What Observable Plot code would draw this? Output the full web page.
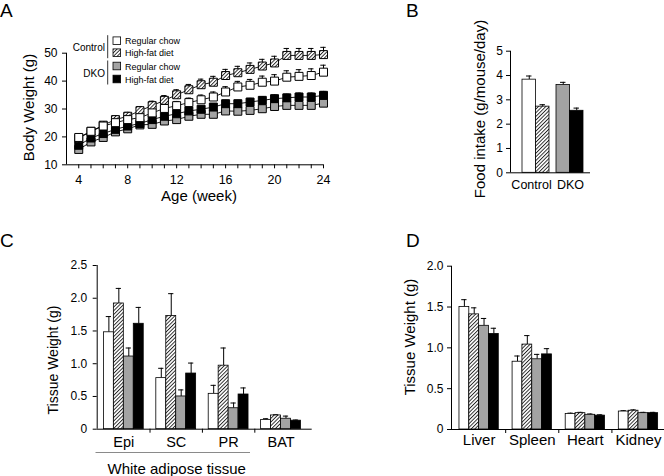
<!DOCTYPE html>
<html><head><meta charset="utf-8">
<script src="https://cdn.jsdelivr.net/npm/d3@7"></script>
<script src="https://cdn.jsdelivr.net/npm/@observablehq/plot@0.6"></script>
<style>
body{margin:0;background:#fff;}
#fig{position:relative;width:664px;height:476px;overflow:hidden;background:#fff;font-family:"Liberation Sans",Arial,sans-serif;}
</style></head>
<body><div id="fig"></div>
<script>
// ---------- DATA ----------
const groupNames = ["Control", "DKO"];
const dietNames = ["Regular chow", "High-fat diet"];
const series = ["Control Regular chow", "Control High-fat diet", "DKO Regular chow", "DKO High-fat diet"];

// Panel A: body weight by age (week)
const weeks = [4,5,6,7,8,9,10,11,12,13,14,15,16,17,18,19,20,21,22,23,24];
const ctrlChow = [19.8,22.0,23.9,25.1,26.2,26.9,28.6,30.2,31.2,32.3,33.3,34.3,36.1,37.9,38.5,39.6,40.0,41.4,41.7,42.0,43.2];
const ctrlHFD  = [19.5,22.0,24.2,26.2,27.4,29.4,31.2,33.1,35.1,36.9,38.7,39.6,42.0,43.0,44.2,45.4,46.5,49.2,49.2,49.2,49.5];
const dkoChow  = [15.5,18.2,19.8,21.8,22.9,24.3,24.5,25.7,26.2,27.4,28.1,28.1,29.3,29.2,29.5,30.1,30.9,31.3,31.3,31.3,32.1];
const dkoHFD   = [17.0,19.6,21.2,22.7,23.9,24.8,26.2,27.4,28.3,29.3,29.9,30.7,31.9,31.9,32.5,33.1,33.7,34.0,34.3,34.3,34.9];
const ctrlChowSem = [1.0,1.0,1.0,1.1,1.1,1.2,1.3,1.4,1.5,1.6,1.7,1.8,1.9,2.0,2.1,2.2,2.3,2.3,2.4,2.4,2.5];
const ctrlHFDSem  = [1.0,1.1,1.2,1.3,1.4,1.5,1.6,1.7,1.8,1.9,2.0,2.1,2.2,2.3,2.3,2.4,2.4,2.5,2.5,2.5,2.6];
const dkoChowSem  = [0.6,0.7,0.7,0.8,0.8,0.8,0.9,0.9,0.9,1.0,1.0,1.0,1.0,1.1,1.1,1.1,1.1,1.2,1.2,1.2,1.2];
const dkoHFDSem   = [0.7,0.8,0.8,0.9,0.9,1.0,1.0,1.0,1.1,1.1,1.1,1.2,1.2,1.2,1.3,1.3,1.3,1.3,1.4,1.4,1.4];
const yTicksA = [10,20,30,40,50];
const xLabelTicksA = [4,8,12,16,20,24];

// Panel B: food intake (g/mouse/day), order = series
const foodIntake = [3.83, 2.72, 3.61, 2.55];
const foodIntakeSem = [0.15, 0.08, 0.11, 0.11];
const yTicksB = [0,1,2,3,4,5];

// Panel C: adipose tissue weight (g)
const fatTissues = ["Epi", "SC", "PR", "BAT"];
const fatCtrlChow = [1.48, 0.78, 0.54, 0.14];
const fatCtrlHFD  = [1.92, 1.73, 0.97, 0.21];
const fatDkoChow  = [1.11, 0.50, 0.32, 0.16];
const fatDkoHFD   = [1.61, 0.85, 0.53, 0.13];
const fatCtrlChowSem = [0.24, 0.15, 0.13, 0.02];
const fatCtrlHFDSem  = [0.23, 0.34, 0.27, 0.01];
const fatDkoChowSem  = [0.13, 0.10, 0.08, 0.04];
const fatDkoHFDSem   = [0.25, 0.16, 0.10, 0.01];
const yTicksC = [0, 0.5, 1.0, 1.5, 2.0, 2.5];
const watLabel = "White adipose tissue";

// Panel D: organ weight (g)
const organs = ["Liver", "Spleen", "Heart", "Kidney"];
const orgCtrlChow = [1.50, 0.83, 0.19, 0.22];
const orgCtrlHFD  = [1.41, 1.04, 0.20, 0.23];
const orgDkoChow  = [1.27, 0.86, 0.18, 0.20];
const orgDkoHFD   = [1.17, 0.92, 0.17, 0.20];
const orgCtrlChowSem = [0.09, 0.07, 0.01, 0.01];
const orgCtrlHFDSem  = [0.08, 0.11, 0.01, 0.01];
const orgDkoChowSem  = [0.09, 0.06, 0.01, 0.01];
const orgDkoHFDSem   = [0.07, 0.07, 0.01, 0.01];
const yTicksD = [0, 0.5, 1.0, 1.5, 2.0];

// ---------- STYLE ----------
const FONT = '"Liberation Sans", Arial, sans-serif';
const fills = ["white", "url(#hatch)", "#a3a3a3", "black"];
const colorScale = {domain: series, range: fills};
const baseStyle = {background: "transparent", fontFamily: FONT, color: "black", overflow: "visible"};
const fig = document.getElementById("fig");
function place(svg, left, top) {
  svg.style.position = "absolute";
  svg.style.left = left + "px";
  svg.style.top = top + "px";
  svg.style.maxWidth = "none";
  fig.appendChild(svg);
}
const fmt1 = d => d === 0 ? "0" : d.toFixed(1);

// ---------- PANEL A ----------
const aSeriesVals = [ctrlChow, ctrlHFD, dkoChow, dkoHFD];
const aSeriesSem = [ctrlChowSem, ctrlHFDSem, dkoChowSem, dkoHFDSem];
const drawOrder = [2, 3, 1, 0];
const rowsA = drawOrder.flatMap(si => weeks.map((w, i) => ({week: w, value: aSeriesVals[si][i], err: aSeriesSem[si][i], series: series[si]})));
const xMinA = 3;
const plotA = Plot.plot({
  width: 340, height: 210,
  marginLeft: 66, marginRight: 17, marginTop: 52.7, marginBottom: 45.7,
  x: {domain: [xMinA, 24]},
  y: {domain: [10, 50]},
  color: colorScale,
  style: baseStyle,
  marks: [
    Plot.ruleX([xMinA], {stroke: "black"}),
    Plot.ruleY([10], {stroke: "black"}),
    Plot.axisY({ticks: yTicksA, tickSize: 4, tickPadding: 5, fontSize: 12, label: null}),
    Plot.axisX({ticks: weeks, tickSize: 4, tickPadding: 6, fontSize: 12.5, label: null,
      tickFormat: d => xLabelTicksA.includes(d) ? String(d) : ""}),
    Plot.ruleX(rowsA, {x: "week", y1: "value", y2: d => d.value + d.err, stroke: "black", strokeWidth: 1}),
    Plot.ruleY(rowsA, {y: d => d.value + d.err, x1: d => d.week - 0.22, x2: d => d.week + 0.22, stroke: "black", strokeWidth: 1}),
    Plot.line(rowsA, {x: "week", y: "value", z: "series", stroke: "black", strokeWidth: 0.9}),
    Plot.dot(rowsA, {x: "week", y: "value", symbol: "square", r: 4.5, fill: "series", stroke: "black", strokeWidth: 1})
  ]
});
place(plotA, 0, 0);

// ---------- BAR PANEL HELPER ----------
function barPanel({rows, barW, xDomain, yDomain, yTicks, yFmt, groupLabels, labelSize, labelPad, labelDx, sepTicks,
                   width, height, marginLeft, marginRight, marginTop, marginBottom, yPad, capHalf}) {
  rows.forEach(r => {
    r.x1 = r.gi - r.nPer * barW / 2 + r.pos * barW;
    r.x2 = r.x1 + barW;
    r.xc = r.x1 + barW / 2;
  });
  const marks = [
    Plot.ruleX(rows, {x: "xc", y1: "value", y2: d => d.value + d.err, stroke: "black", strokeWidth: 1}),
    Plot.ruleY(rows, {y: d => d.value + d.err, x1: d => d.xc - capHalf, x2: d => d.xc + capHalf, stroke: "black", strokeWidth: 1}),
    Plot.rectY(rows, {x1: "x1", x2: "x2", y: "value", fill: "series", stroke: "black", strokeWidth: 0.8}),
    Plot.ruleX([xDomain[0]], {stroke: "black"}),
    Plot.ruleY([0], {stroke: "black"}),
    Plot.axisY({ticks: yTicks, tickFormat: yFmt, tickSize: 4, tickPadding: yPad, fontSize: 12, label: null})
  ];
  groupLabels.forEach((g, i) => marks.push(
    Plot.axisX({ticks: [i], tickFormat: () => g, tickSize: 0, tickPadding: labelPad, fontSize: labelSize, label: null,
      dx: labelDx ? labelDx[i] : 0})
  ));
  if (sepTicks) marks.push(Plot.axisX({ticks: sepTicks, tickFormat: () => "", tickSize: 4, label: null}));
  return Plot.plot({
    width, height, marginLeft, marginRight, marginTop, marginBottom,
    x: {domain: xDomain}, y: {domain: yDomain},
    color: colorScale, style: baseStyle, marks
  });
}
function rows4(vals, sems) {
  const out = [];
  vals[0].forEach((_, gi) => vals.forEach((v, si) => out.push({gi, pos: si, nPer: 4, series: series[si], value: v[gi], err: sems[si][gi]})));
  return out;
}

// ---------- PANEL B ----------
const rowsB = foodIntake.map((v, si) => ({gi: Math.floor(si / 2), pos: si % 2, nPer: 2, series: series[si], value: v, err: foodIntakeSem[si]}));
const plotB = barPanel({rows: rowsB, barW: 0.397, xDomain: [-0.75, 1.603], yDomain: [0, 5], yTicks: yTicksB, yFmt: d => String(d),
  groupLabels: groupNames, labelSize: 12.5, labelPad: 7, labelDx: [-4.5, 0.5], sepTicks: null,
  width: 244, height: 240, marginLeft: 90, marginRight: 74, marginTop: 50.7, marginBottom: 67.7, yPad: 3.5, capHalf: 0.08});
place(plotB, 420, 0);

// ---------- PANEL C ----------
const rowsC = rows4([fatCtrlChow, fatCtrlHFD, fatDkoChow, fatDkoHFD], [fatCtrlChowSem, fatCtrlHFDSem, fatDkoChowSem, fatDkoHFDSem]);
const plotC = barPanel({rows: rowsC, barW: 0.19, xDomain: [-0.508, 3.595], yDomain: [0, 2.5], yTicks: yTicksC, yFmt: fmt1,
  groupLabels: fatTissues, labelSize: 14.5, labelPad: 8, labelDx: null, sepTicks: [0.5, 1.5, 2.5],
  width: 340, height: 236, marginLeft: 96.7, marginRight: 28.3, marginTop: 25, marginBottom: 47.3, yPad: 6, capHalf: 0.05});
place(plotC, 0, 240);

// ---------- PANEL D ----------
const rowsD = rows4([orgCtrlChow, orgCtrlHFD, orgDkoChow, orgDkoHFD], [orgCtrlChowSem, orgCtrlHFDSem, orgDkoChowSem, orgDkoHFDSem]);
const plotD = barPanel({rows: rowsD, barW: 0.185, xDomain: [-0.52, 3.49], yDomain: [0, 2.0], yTicks: yTicksD, yFmt: fmt1,
  groupLabels: organs, labelSize: 15, labelPad: 5, labelDx: null, sepTicks: [0.5, 1.5, 2.5],
  width: 284, height: 236, marginLeft: 71, marginRight: 0, marginTop: 25.7, marginBottom: 47, yPad: 4, capHalf: 0.05});
place(plotD, 380, 240);

// ---------- OVERLAY: pattern, letters, axis titles, legend ----------
const ov = d3.select(fig).append("svg")
  .attr("width", 664).attr("height", 476)
  .style("position", "absolute").style("left", "0px").style("top", "0px")
  .style("pointer-events", "none").style("font-family", FONT);
const pat = ov.append("defs").append("pattern")
  .attr("id", "hatch").attr("patternUnits", "userSpaceOnUse")
  .attr("width", 2.6).attr("height", 2.6).attr("patternTransform", "rotate(45)");
pat.append("rect").attr("width", 2.6).attr("height", 2.6).attr("fill", "white");
pat.append("line").attr("x1", 0.5).attr("y1", 0).attr("x2", 0.5).attr("y2", 2.6).attr("stroke", "black").attr("stroke-width", 0.8);

function txt(x, y, s, size, anchor = "start", rot = 0, baseline = "auto") {
  const t = ov.append("text").text(s).attr("font-size", size).attr("fill", "black")
    .attr("text-anchor", anchor).attr("dominant-baseline", baseline);
  if (rot) t.attr("transform", `translate(${x},${y}) rotate(${rot})`);
  else t.attr("x", x).attr("y", y);
  return t;
}
// panel letters
txt(0, 17, "A", 19); txt(406, 17, "B", 19);
txt(0, 247, "C", 19); txt(406, 247, "D", 19);
// axis titles
txt(28, 107.5, "Body Weight (g)", 15, "middle", -90, "central");
txt(199, 201, "Age (week)", 15, "middle");
txt(479, 109, "Food intake (g/mouse/day)", 15, "middle", -90, "central");
txt(52.5, 360, "Tissue Weight (g)", 14, "middle", -90, "central");
txt(409, 337, "Tissue Weight (g)", 15, "middle", -90, "central");
// white adipose tissue bracket
ov.append("line").attr("x1", 95.5).attr("x2", 250).attr("y1", 452.5).attr("y2", 452.5).attr("stroke", "#8a8a8a").attr("stroke-width", 1);
txt(176.7, 474, watLabel, 15, "middle");
// legend in panel A
const rowY = [40.7, 52.7, 66, 79];
groupNames.forEach((g, gi) => {
  const y0 = rowY[gi * 2] - 5.5, y1 = rowY[gi * 2 + 1] + 5.5;
  ov.append("line").attr("x1", 107.7).attr("x2", 107.7).attr("y1", y0).attr("y2", y1).attr("stroke", "black").attr("stroke-width", 0.8);
  txt(105, (rowY[gi * 2] + rowY[gi * 2 + 1]) / 2 + 0.5, g, 10, "end", 0, "central");
  dietNames.forEach((d, di) => {
    const si = gi * 2 + di, cy = rowY[si];
    ov.append("rect").attr("x", 113).attr("y", cy - 3.8).attr("width", 7.6).attr("height", 7.6)
      .attr("fill", fills[si]).attr("stroke", "black").attr("stroke-width", 0.8);
    txt(125, cy + 0.5, d, 9, "start", 0, "central");
  });
});
</script>
</body></html>
